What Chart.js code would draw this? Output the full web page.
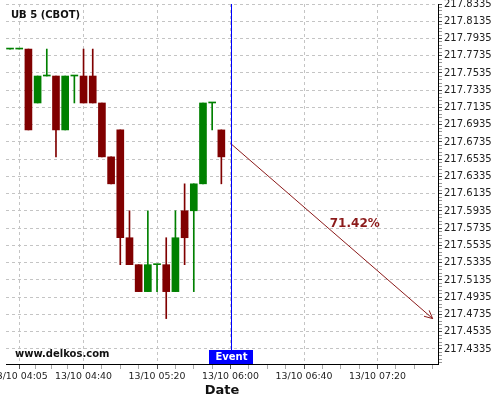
<!DOCTYPE html>
<html>
<head>
<meta charset="utf-8">
<script src="https://cdn.jsdelivr.net/npm/chart.js@4.4.1/dist/chart.umd.min.js"></script>
<style>
html, body { margin: 0; padding: 0; background: #fff; }
#wrap { position: relative; width: 500px; height: 400px; overflow: hidden; }
/* canvas is a bit bigger than the page so edge labels get clipped like the original */
#c { position: absolute; left: -20px; top: -10px; }
</style>
</head>
<body>
<div id="wrap"><canvas id="c" width="520" height="420"></canvas></div>
<script>
// ===================================
// DATA (13/10, 5 minute candles)
// ===================================
const times  = ['04:00','04:05','04:10','04:15','04:20','04:25','04:30','04:35','04:40','04:45','04:50','04:55',
                '05:00','05:05','05:10','05:15','05:20','05:25','05:30','05:35','05:40','05:45','05:50','05:55'];
const opens  = [217.78125,217.78125,217.78125,217.71875,217.75,217.75,217.6875,217.75,217.75,217.75,217.71875,217.65625,
                217.6875,217.5625,217.53125,217.5,217.53125,217.53125,217.5,217.59375,217.59375,217.625,217.71875,217.6875];
const highs  = [217.78125,217.78125,217.78125,217.75,217.78125,217.75,217.75,217.75,217.78125,217.78125,217.71875,217.65625,
                217.6875,217.59375,217.53125,217.59375,217.53125,217.5625,217.59375,217.625,217.625,217.71875,217.71875,217.6875];
const lows   = [217.78125,217.78125,217.6875,217.71875,217.75,217.65625,217.6875,217.71875,217.71875,217.71875,217.65625,217.625,
                217.53125,217.53125,217.5,217.5,217.5,217.46875,217.5,217.53125,217.5,217.625,217.6875,217.625];
const closes = [217.78125,217.78125,217.6875,217.75,217.75,217.6875,217.75,217.75,217.71875,217.71875,217.65625,217.625,
                217.5625,217.53125,217.5,217.53125,217.53125,217.5,217.5625,217.5625,217.625,217.71875,217.71875,217.65625];

const xTickTimes  = ['04:05','04:40','05:20','06:00','06:40','07:20'];
const xTickLabels = ['13/10 04:05','13/10 04:40','13/10 05:20','13/10 06:00','13/10 06:40','13/10 07:20'];
const yTickLabels = ['217.8335','217.8135','217.7935','217.7735','217.7535','217.7335','217.7135','217.6935','217.6735',
                     '217.6535','217.6335','217.6135','217.5935','217.5735','217.5535','217.5335','217.5135','217.4935',
                     '217.4735','217.4535','217.4335'];

const eventTime = '06:00';
const arrowTimes  = ['06:00','07:50'];
const arrowValues = [217.671875, 217.46875];
const pctLabel = '71.42%';

// ===================================
// HELPERS
// ===================================
const UP = '#008000';
const DOWN = '#800000';
const ARROW = '#8b1a1a';
const GRID = '#c4c4c4';

// minutes after 04:00
function toMin(t) {
    const [h, m] = t.split(':').map(Number);
    return (h - 4) * 60 + m;
}

const candleColors = opens.map((o, i) => closes[i] >= o ? UP : DOWN);
const bodyData = times.map((t, i) => ({ x: toMin(t), y: [opens[i], closes[i]] }));
const wickData = times.map((t, i) => ({ x: toMin(t), y: [lows[i], highs[i]] }));
const arrowData = arrowTimes.map((t, i) => ({ x: toMin(t), y: arrowValues[i] }));

const yMax = parseFloat(yTickLabels[0]);
const yMin = 217.4161;
const xMin = -2.2;
const xMax = 232.9;

// major ticks with labels, small ticks in between (4 parts in the first gap, 10 min after)
function buildXTicks() {
    const majors = xTickTimes.map(toMin);
    const ticks = majors.map((v, i) => ({ value: v, major: true, label: xTickLabels[i] }));
    const step0 = (majors[1] - majors[0]) / 4;
    for (let k = 1; k < 4; k++) ticks.push({ value: majors[0] + k * step0, major: false });
    for (let v = majors[1] + 10; v <= xMax; v += 10) {
        if (!majors.includes(v)) ticks.push({ value: v, major: false });
    }
    return ticks.sort((a, b) => a.value - b.value);
}

// extra drawing: event marker, arrow head, texts
const overlay = {
    id: 'overlay',
    afterDatasetsDraw(chart) {
        const { ctx, chartArea: a, scales: { x, y } } = chart;
        ctx.save();

        // arrow head
        const pts = chart.getDatasetMeta(2).data;
        const p0 = pts[0], p1 = pts[1];
        const ang = Math.atan2(p1.y - p0.y, p1.x - p0.x);
        ctx.strokeStyle = ARROW;
        ctx.lineWidth = 1;
        ctx.beginPath();
        [-0.45, 0.45].forEach(d => {
            ctx.moveTo(p1.x, p1.y);
            ctx.lineTo(p1.x - 9 * Math.cos(ang + d), p1.y - 9 * Math.sin(ang + d));
        });
        ctx.stroke();

        // percentage
        ctx.fillStyle = ARROW;
        ctx.font = 'bold 12px "DejaVu Sans"';
        ctx.textAlign = 'left';
        ctx.textBaseline = 'middle';
        ctx.fillText(pctLabel, x.getPixelForValue(toMin('06:54')), y.getPixelForValue(217.5784));

        // event line
        const ex = Math.round(x.getPixelForValue(toMin(eventTime)));
        ctx.fillStyle = '#0000ff';
        ctx.fillRect(ex, a.top, 1, a.bottom - a.top);

        // event box
        ctx.fillRect(ex - 22, a.bottom - 14, 44, 14);
        ctx.fillStyle = '#ffffff';
        ctx.font = 'bold 10px "DejaVu Sans"';
        ctx.textAlign = 'center';
        ctx.fillText('Event', ex + 0.5, a.bottom - 6.5);

        // title + site
        ctx.fillStyle = '#111';
        ctx.textAlign = 'left';
        ctx.fillText('UB 5 (CBOT)', a.left + 5, a.top + 11.5);
        ctx.fillText('www.delkos.com', a.left + 9, a.bottom - 10);

        ctx.restore();
    }
};

Chart.defaults.font.family = '"DejaVu Sans"';

const chart = new Chart(document.getElementById('c'), {
    type: 'bar',
    data: {
        datasets: [{
            label: 'body',
            data: bodyData,
            backgroundColor: candleColors,
            grouped: false,
            barPercentage: 1,
            categoryPercentage: 1,
            maxBarThickness: 7,
            minBarLength: 1
        }, {
            label: 'wick',
            data: wickData,
            backgroundColor: candleColors,
            grouped: false,
            barPercentage: 1,
            categoryPercentage: 1,
            maxBarThickness: 1
        }, {
            type: 'line',
            label: 'arrow',
            data: arrowData,
            borderColor: ARROW,
            borderWidth: 1,
            pointRadius: 0
        }]
    },
    options: {
        responsive: false,
        animation: false,
        devicePixelRatio: 1,
        layout: { padding: { left: 26, top: 14, right: 0, bottom: 10 } },
        plugins: { legend: { display: false }, tooltip: { enabled: false } },
        scales: {
            x: {
                type: 'linear',
                offset: false,
                min: xMin,
                max: xMax,
                afterBuildTicks: (scale) => { scale.ticks = buildXTicks(); },
                afterFit: (scale) => { scale.height = 36; },
                ticks: {
                    autoSkip: false,
                    maxRotation: 0,
                    padding: 2,
                    color: '#222',
                    font: { size: 9.4 },
                    callback: (v, i, ticks) => ticks[i].label || ''
                },
                grid: {
                    offset: false,
                    color: (c) => c.tick && c.tick.major ? GRID : 'rgba(0,0,0,0)',
                    tickColor: (c) => c.tick && c.tick.major ? '#555' : '#aaa',
                    tickLength: 5
                },
                border: { display: true, color: '#000', dash: [3, 3] },
                title: {
                    display: true,
                    text: 'Date',
                    color: '#111',
                    font: { size: 13, weight: 'bold' },
                    padding: { top: 0, bottom: 2 }
                }
            },
            y: {
                position: 'right',
                min: yMin,
                max: yMax,
                afterBuildTicks: (scale) => {
                    const ticks = [];
                    for (let i = 0; yMax - i * 0.004 >= yMin; i++) {
                        ticks.push({ value: yMax - i * 0.004, major: i % 5 === 0 });
                    }
                    scale.ticks = ticks;
                },
                afterFit: (scale) => { scale.width = 62; },
                ticks: {
                    autoSkip: false,
                    padding: 2,
                    color: '#222',
                    font: { size: 10 },
                    callback: (v, i) => i % 5 === 0 ? yTickLabels[i / 5] : ''
                },
                grid: {
                    color: (c) => c.tick && c.tick.major ? GRID : 'rgba(0,0,0,0)',
                    tickColor: (c) => c.tick && c.tick.major ? '#444' : '#999',
                    tickLength: 4
                },
                border: { display: true, color: '#000', dash: [3, 3] }
            }
        }
    },
    plugins: [overlay]
});
</script>
</body>
</html>
